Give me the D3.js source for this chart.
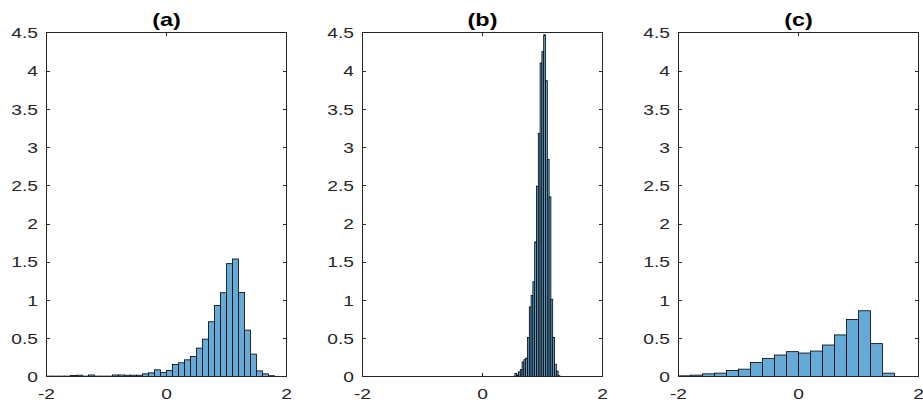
<!DOCTYPE html>
<html>
<head>
<meta charset="utf-8">
<script src="https://cdn.jsdelivr.net/npm/d3@7"></script>
<style>
  body { margin: 0; background: #fff; }
  svg { display: block; }
</style>
</head>
<body>
<div id="chart"></div>
<script>
// Histogram data (pdf-normalised)
var titles = ["(a)", "(b)", "(c)"];

// (a) bins of width 0.1 starting at -2
var startA = -2, widthA = 0.1;
var heightsA = [0.005, 0.005, 0.005, 0.005, 0.013, 0.017, 0.005, 0.02, 0.005, 0.005,
                0.005, 0.02, 0.02, 0.017, 0.017, 0.017, 0.035, 0.048, 0.087, 0.052,
                0.079, 0.157, 0.179, 0.218, 0.262, 0.371, 0.489, 0.716, 0.93, 1.096,
                1.476, 1.537, 1.10, 0.607, 0.293, 0.074, 0.035, 0.01, 0.002, 0];

// (b) bins of width 0.03 starting at 0.54
var startB = 0.54, widthB = 0.03;
var heightsB = [0.04, 0.02, 0.06, 0.09, 0.19, 0.22, 0.24, 0.51, 0.91, 1.06,
                1.24, 1.76, 2.49, 3.18, 4.10, 4.25, 4.47, 3.87, 2.84, 2.35,
                1.01, 0.51, 0.16, 0.07, 0.01];

// (c) bins of width 0.2 starting at -2
var startC = -2, widthC = 0.2;
var heightsC = [0.009, 0.018, 0.035, 0.044, 0.079, 0.096, 0.184, 0.237, 0.281, 0.325,
                0.307, 0.333, 0.412, 0.544, 0.746, 0.86, 0.43, 0.044];

var xTicks = [-2, 0, 2];
var yTicks = [0, 0.5, 1, 1.5, 2, 2.5, 3, 3.5, 4, 4.5];

var w = 923, h = 406;
var axisColor = "#262626";
var barFill = "rgb(102,170,215)";
var font = "'Liberation Sans', Arial, Helvetica, sans-serif";

var panels = [
  { title: titles[0], left: 46.5, start: startA, bw: widthA, heights: heightsA },
  { title: titles[1], left: 362.5, start: startB, bw: widthB, heights: heightsB },
  { title: titles[2], left: 678.5, start: startC, bw: widthC, heights: heightsC }
];
var pw = 240, plotTop = 32.5, plotBottom = 376.5, tickLen = 3.5;

var svg = d3.select("#chart").append("svg")
  .attr("width", w)
  .attr("height", h)
  .style("font-family", font);

// the reference glyphs are a bit wider than plain Arial, so stretch text horizontally
function label(g, x, y, str, anchor, size, weight, sx) {
  return g.append("text")
    .attr("transform", "translate(" + x + "," + y + ") scale(" + sx + ",1)")
    .attr("text-anchor", anchor)
    .attr("fill", weight === "bold" ? "#000" : axisColor)
    .style("font-size", size + "px")
    .style("font-weight", weight)
    .text(str);
}

panels.forEach(function(p) {
  var x = d3.scaleLinear().domain([-2, 2]).range([p.left, p.left + pw]);
  var y = d3.scaleLinear().domain([0, 4.5]).range([plotBottom, plotTop]);
  var g = svg.append("g");

  // bars
  g.selectAll("rect")
    .data(p.heights)
    .enter()
    .append("rect")
    .attr("x", function(d, i) { return x(p.start + i * p.bw); })
    .attr("width", function(d, i) { return x(p.start + (i + 1) * p.bw) - x(p.start + i * p.bw); })
    .attr("y", function(d) { return y(d); })
    .attr("height", function(d) { return y(0) - y(d); })
    .attr("fill", barFill)
    .attr("stroke", "#000")
    .attr("stroke-width", 0.8);

  // box
  g.append("rect")
    .attr("x", p.left).attr("y", plotTop)
    .attr("width", pw).attr("height", plotBottom - plotTop)
    .attr("fill", "none")
    .attr("stroke", axisColor)
    .attr("stroke-width", 1);

  // y ticks (inward, both sides) and labels
  yTicks.forEach(function(t) {
    var yy = Math.round(y(t)) + 0.5;
    if (t > 0 && t < 4.5) {
      g.append("line").attr("x1", p.left).attr("x2", p.left + tickLen)
        .attr("y1", yy).attr("y2", yy).attr("stroke", axisColor);
      g.append("line").attr("x1", p.left + pw).attr("x2", p.left + pw - tickLen)
        .attr("y1", yy).attr("y2", yy).attr("stroke", axisColor);
    }
    label(g, p.left - 8.5, y(t) + 5.6, t, "end", 15.5, "normal", 1.24);
  });

  // x ticks and labels
  xTicks.forEach(function(t) {
    var xx = x(t);
    if (t > -2 && t < 2) {
      g.append("line").attr("x1", xx).attr("x2", xx)
        .attr("y1", plotBottom).attr("y2", plotBottom - tickLen).attr("stroke", axisColor);
      g.append("line").attr("x1", xx).attr("x2", xx)
        .attr("y1", plotTop).attr("y2", plotTop + tickLen).attr("stroke", axisColor);
    }
    label(g, xx, 399, t, "middle", 15.5, "normal", 1.24);
  });

  // title
  label(g, p.left + pw / 2, 26, p.title, "middle", 18, "bold", 1.3);
});
</script>
</body>
</html>
